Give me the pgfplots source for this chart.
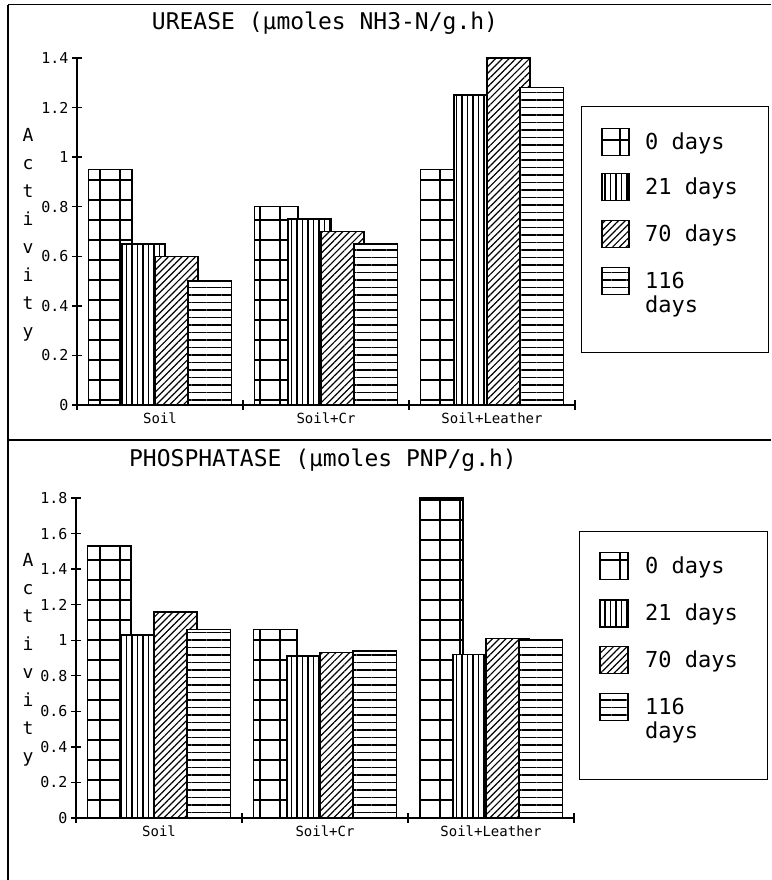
\documentclass[border=0pt]{standalone}
\usepackage{fontspec}
\setmainfont{DejaVu Sans Mono}
\usepackage{pgfplots}
\pgfplotsset{compat=1.18}
\usetikzlibrary{patterns.meta}

\tikzset{
  p0/.style={draw=black, line width=1.5pt, fill=white,
    postaction={pattern={Hatch[distance=20pt, angle=0, line width=1.2pt]}}},
  p21/.style={draw=black, line width=1.5pt, fill=white,
    postaction={pattern={Lines[distance=5.5pt, angle=90, line width=1.2pt]}}},
  p70/.style={draw=black, line width=1.5pt, fill=white,
    postaction={pattern={Lines[distance=4.8pt, angle=45, line width=1.2pt]}}},
  p116/.style={draw=black, line width=1.5pt, fill=white,
    postaction={pattern={Lines[distance=7.5pt, angle=0, line width=1.2pt]}}},
}

\pgfplotsset{enz/.style={
  scale only axis, width=498pt, xmin=0, xmax=3, ymin=0,
  enlargelimits=false,
  axis x line=bottom, axis y line=left,
  axis line style={-, line width=1.4pt, black},
  xtick={0,1,2,3}, xticklabels={,,,},
  extra x ticks={0.5,1.5,2.5},
  extra x tick labels={Soil,Soil+Cr,Soil+Leather},
  extra x tick style={major tick length=0pt,
    tick label style={font=\fontsize{14}{14}\selectfont, yshift=-4pt}},
  tick align=center, major tick length=10pt,
  tick style={line width=1.3pt, black},
  yticklabel style={font=\fontsize{15}{15}\selectfont},
  /pgf/number format/assume math mode=true,
  clip=false,
}}

\begin{document}
\begin{tikzpicture}
\path[use as bounding box] (0pt,0pt) rectangle (771pt,880pt);

% frame
\draw[line width=1pt] (8pt,875pt) -- (771pt,875pt);
\draw[line width=1.2pt] (8pt,875pt) -- (8pt,0pt);
\draw[line width=2pt] (8pt,440pt) -- (771pt,440pt);

% ---------------- UREASE ----------------
\begin{axis}[enz, at={(77pt,475pt)}, anchor=south west,
  height=347pt, ymax=1.4, ytick={0,0.2,0.4,0.6,0.8,1,1.2,1.4}]
\addplot[ybar, bar width=0.26, bar shift=0pt, p0] coordinates {(0.2,0.95) (1.2,0.80) (2.2,0.95)};
\addplot[ybar, bar width=0.26, bar shift=0pt, p21] coordinates {(0.4,0.65) (1.4,0.75) (2.4,1.25)};
\addplot[ybar, bar width=0.26, bar shift=0pt, p70] coordinates {(0.6,0.60) (1.6,0.70) (2.6,1.40)};
\addplot[ybar, bar width=0.26, bar shift=0pt, p116] coordinates {(0.8,0.50) (1.8,0.65) (2.8,1.28)};
\end{axis}

\node[font=\fontsize{23}{23}\selectfont] at (325pt,857pt) {UREASE (µmoles NH3-N/g.h)};
\node[font=\fontsize{18}{28}\selectfont, align=center] at (28pt,645pt) {A\\c\\t\\i\\v\\i\\t\\y};

% legend top
\draw[line width=1pt] (581pt,773pt) rectangle (768pt,527pt);
\draw[p0]   (602pt,724.5pt) rectangle (629pt,751.5pt);
\draw[p21]  (602pt,679.5pt) rectangle (629pt,706.5pt);
\draw[p70]  (602pt,632.5pt) rectangle (629pt,659.5pt);
\draw[p116] (602pt,585.5pt) rectangle (629pt,612.5pt);
\begin{scope}[every node/.style={font=\fontsize{22}{22}\selectfont, anchor=base west, inner sep=0pt}]
\node at (645pt,730.5pt) {0 days};
\node at (645pt,685.5pt) {21 days};
\node at (645pt,638.5pt) {70 days};
\node at (645pt,591.5pt) {116};
\node at (645pt,567pt) {days};
\end{scope}

% ---------------- PHOSPHATASE ----------------
\begin{axis}[enz, at={(76pt,62pt)}, anchor=south west,
  height=320pt, ymax=1.8, ytick={0,0.2,0.4,0.6,0.8,1,1.2,1.4,1.6,1.8}]
\addplot[ybar, bar width=0.26, bar shift=0pt, p0] coordinates {(0.2,1.53) (1.2,1.06) (2.2,1.80)};
\addplot[ybar, bar width=0.26, bar shift=0pt, p21] coordinates {(0.4,1.03) (1.4,0.91) (2.4,0.92)};
\addplot[ybar, bar width=0.26, bar shift=0pt, p70] coordinates {(0.6,1.16) (1.6,0.93) (2.6,1.01)};
\addplot[ybar, bar width=0.26, bar shift=0pt, p116] coordinates {(0.8,1.06) (1.8,0.94) (2.8,1.00)};
\end{axis}

\node[font=\fontsize{23}{23}\selectfont] at (323pt,420pt) {PHOSPHATASE (µmoles PNP/g.h)};
\node[font=\fontsize{18}{28}\selectfont, align=center] at (28pt,220pt) {A\\c\\t\\i\\v\\i\\t\\y};

% legend bottom
\draw[line width=1pt] (579pt,348pt) rectangle (767pt,100pt);
\draw[p0]   (600pt,300.5pt) rectangle (628pt,327.5pt);
\draw[p21]  (600pt,253pt) rectangle (628pt,280pt);
\draw[p70]  (600pt,206.5pt) rectangle (628pt,233.5pt);
\draw[p116] (600pt,159.5pt) rectangle (628pt,186.5pt);
\begin{scope}[every node/.style={font=\fontsize{22}{22}\selectfont, anchor=base west, inner sep=0pt}]
\node at (645pt,306.5pt) {0 days};
\node at (645pt,259pt) {21 days};
\node at (645pt,212.5pt) {70 days};
\node at (645pt,165.5pt) {116};
\node at (645pt,141pt) {days};
\end{scope}
\end{tikzpicture}
\end{document}
